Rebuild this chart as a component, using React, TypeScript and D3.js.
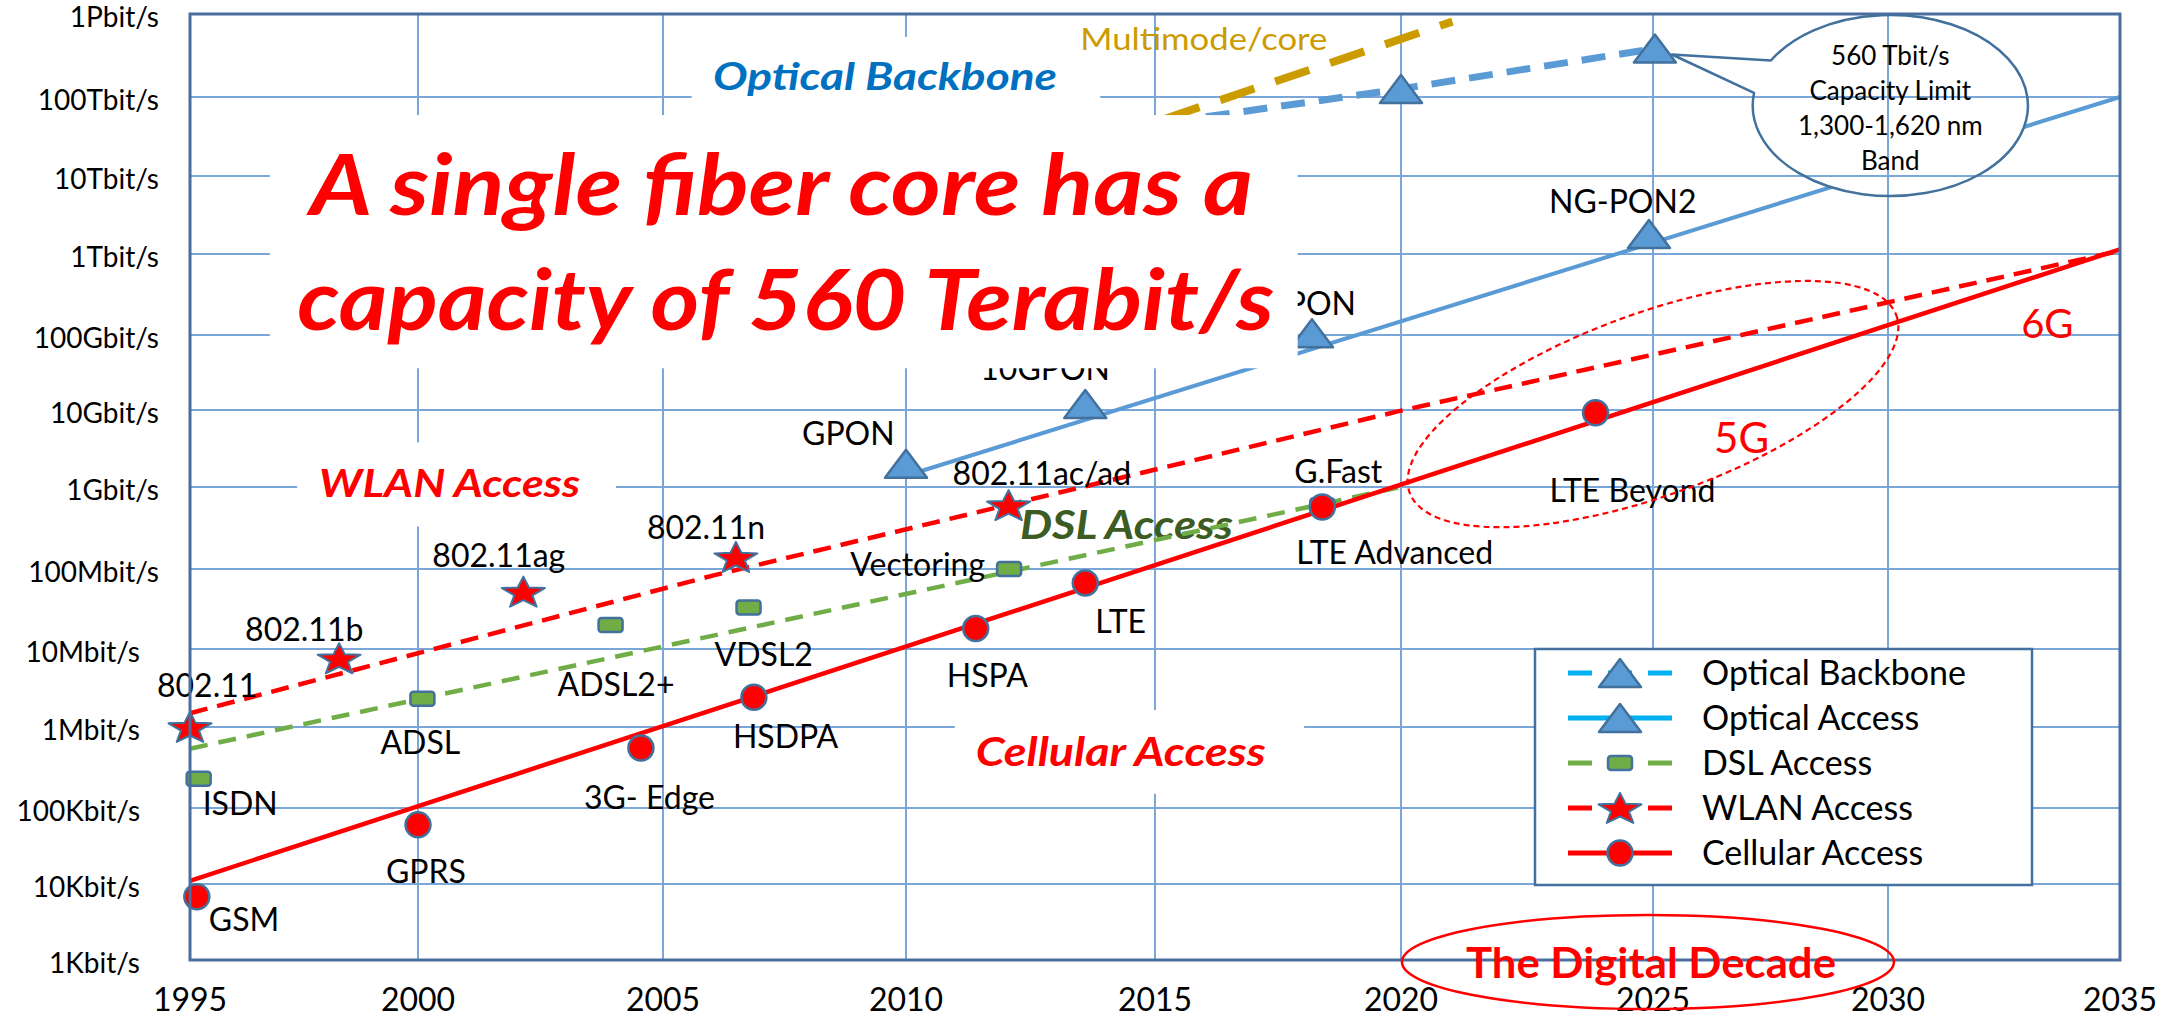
import React from 'react';
import * as d3 from 'd3';

type Pt = { name: string; year: number; rate: number };

const yearTicks = [1995, 2000, 2005, 2010, 2015, 2020, 2025, 2030, 2035];
const rateTicks = [1e3, 1e4, 1e5, 1e6, 1e7, 1e8, 1e9, 1e10, 1e11, 1e12, 1e13, 1e14, 1e15];
const rateTickLabels = ['1Kbit/s', '10Kbit/s', '100Kbit/s', '1Mbit/s', '10Mbit/s', '100Mbit/s', '1Gbit/s',
  '10Gbit/s', '100Gbit/s', '1Tbit/s', '10Tbit/s', '100Tbit/s', '1Pbit/s'];

const cellular: Pt[] = [
  { name: 'GSM', year: 1995.15, rate: 6.8e3 },
  { name: 'GPRS', year: 2000, rate: 6.0e4 },
  { name: '3G- Edge', year: 2004.55, rate: 5.5e5 },
  { name: 'HSDPA', year: 2006.87, rate: 2.4e6 },
  { name: 'HSPA', year: 2011.4, rate: 1.8e7 },
  { name: 'LTE', year: 2013.6, rate: 6.7e7 },
  { name: 'LTE Advanced', year: 2018.4, rate: 5.7e8 },
  { name: 'LTE Beyond', year: 2023.86, rate: 9.2e9 },
];
const cellularTrend = [[1995, 1.1e4], [2035, 1.15e12]];

const wlan: Pt[] = [
  { name: '802.11', year: 1995.0, rate: 1.0e6 },
  { name: '802.11b', year: 1998.27, rate: 7.6e6 },
  { name: '802.11ag', year: 2002.15, rate: 5.2e7 },
  { name: '802.11n', year: 2006.5, rate: 1.4e8 },
  { name: '802.11ac/ad', year: 2012.06, rate: 6.0e8 },
];
const wlanTrend = [[1995, 1.5e6], [2006, 8.2e7], [2020, 9.8e9], [2035, 1.1e12]];

const dsl: Pt[] = [
  { name: 'ISDN', year: 1995.19, rate: 2.3e5 },
  { name: 'ADSL', year: 2000.09, rate: 2.3e6 },
  { name: 'ADSL2+', year: 2003.93, rate: 2.0e7 },
  { name: 'VDSL2', year: 2006.76, rate: 3.3e7 },
  { name: 'Vectoring', year: 2012.07, rate: 1.0e8 },
  { name: 'G.Fast', year: 2018.4, rate: 6.0e8 },
];
const dslTrend = [[1995, 5.4e5], [2020, 1e9]];

const opticalAccess: Pt[] = [
  { name: 'GPON', year: 2010, rate: 2.0e9 },
  { name: '10GPON', year: 2013.6, rate: 1.2e10 },
  { name: 'XG-PON', year: 2018.19, rate: 1.05e11 },
  { name: 'NG-PON2', year: 2024.92, rate: 1.8e12 },
];
const opticalAccessTrend = [[2010, 1.4e9], [2035, 1e14]];

const opticalBackbone: Pt[] = [
  { name: '', year: 2013, rate: 3.0e13 },
  { name: '', year: 2020, rate: 1.25e14 },
  { name: '', year: 2025.04, rate: 3.84e14 },
];
const multimodeTrend = [[2013, 1.8e13], [2021.02, 8.1e14]];

const legendNames = ['Optical Backbone', 'Optical Access', 'DSL Access', 'WLAN Access', 'Cellular Access'];
const titleLines = ['A single fiber core has a', 'capacity of 560 Terabit/s'];
const calloutLines = ['560 Tbit/s', 'Capacity Limit', '1,300-1,620 nm', 'Band'];

// label placement: [dx, dy, anchor] from the marker
const labelOffsets: Record<string, [number, number, string]> = {
  GSM: [12, 34, 'start'], GPRS: [8, 58, 'middle'], '3G- Edge': [-57, 61, 'start'], HSDPA: [-21, 51, 'start'],
  HSPA: [-29, 58, 'start'], LTE: [10, 50, 'start'], 'LTE Advanced': [-26, 57, 'start'], 'LTE Beyond': [-46, 89, 'start'],
  '802.11': [-33, -30, 'start'], '802.11b': [-94, -17, 'start'], '802.11ag': [-91, -25, 'start'],
  '802.11n': [-89, -18, 'start'], '802.11ac/ad': [-56, -20, 'start'],
  ISDN: [4, 36, 'start'], ADSL: [-42, 55, 'start'], 'ADSL2+': [-53, 71, 'start'], VDSL2: [-34, 58, 'start'],
  Vectoring: [-24, 7, 'end'], 'G.Fast': [-28, -22, 'start'],
  GPON: [-104, -19, 'start'], '10GPON': [-105, -24, 'start'], 'XG-PON': [44, -18, 'end'], 'NG-PON2': [-100, -21, 'start'],
};

const FONT = "Lato, 'Open Sans', sans-serif";
const RED = '#ff0000';
const EDGE = '#41719c';

const starPath = (() => {
  const R = 16.6, r = 7, sx = 1.36;
  const pts = d3.range(10).map(i => {
    const a = -Math.PI / 2 + (i * Math.PI) / 5;
    const rad = i % 2 ? r : R;
    return [Math.cos(a) * rad * sx, Math.sin(a) * rad + 1.5];
  });
  return 'M' + pts.map(p => p.join(',')).join('L') + 'Z';
})();

const Marker: React.FC<{ kind: string }> = ({ kind }) => {
  if (kind === 'tri')
    return <path d="M0,-14L21,14L-21,14Z" fill="#5b9bd5" stroke={EDGE} strokeWidth={2.5} strokeLinejoin="round" />;
  if (kind === 'sq')
    return <rect x={-12} y={-7} width={24} height={14} rx={3} fill="#70ad47" stroke={EDGE} strokeWidth={2.5} />;
  if (kind === 'star') return <path d={starPath} fill={RED} stroke={EDGE} strokeWidth={2} strokeLinejoin="round" />;
  return <circle r={12.5} fill={RED} stroke={EDGE} strokeWidth={2.5} />;
};

const App: React.FC = () => {
  const W = 2175, H = 1020;
  const left = 190, right = 2120, top = 14, bottom = 960;

  // the reference grid is a little uneven, so both scales are piecewise
  const x = d3.scaleLinear().domain(yearTicks).range([190, 418, 663, 906, 1155, 1401, 1653, 1888, 2120]);
  const y = d3.scaleLog().domain(rateTicks).range([960, 884, 808, 727, 649, 569, 487, 410, 335, 254, 176, 97, 14]);
  const line = d3.line<number[]>().x(d => x(d[0])).y(d => y(d[1]));
  const ptLine = d3.line<Pt>().x(d => x(d.year)).y(d => y(d.rate));

  const whiteBox = (y0: number, y1: number, v0: number, v1: number, key: string) => (
    <rect key={key} x={x(y0)} y={y(v0)} width={x(y1) - x(y0)} height={y(v1) - y(v0)} fill="white" />
  );

  // callout bubble
  const bc = [x(2030.05), y(7.8e13)];
  const brx = 137.6, bry = 90.5;
  const a1 = (209.8 * Math.PI) / 180, a2 = (188 * Math.PI) / 180;
  const pA = [bc[0] + brx * Math.cos(a1), bc[1] + bry * Math.sin(a1)];
  const pB = [bc[0] + brx * Math.cos(a2), bc[1] + bry * Math.sin(a2)];
  const last = opticalBackbone[opticalBackbone.length - 1];
  const tip = [x(last.year) + 17, y(last.rate) + 6];
  const bubble = `M${pA}A${brx},${bry} 0 1 1 ${pB}L${tip}Z`;

  const labels = (pts: Pt[]) =>
    pts.filter(p => labelOffsets[p.name]).map(p => {
      const [dx, dy, anchor] = labelOffsets[p.name];
      return (
        <text key={p.name} x={x(p.year) + dx} y={y(p.rate) + dy} textAnchor={anchor as any}
          fontSize={32} fill="#000">{p.name}</text>
      );
    });

  const markers = (pts: Pt[], kind: string) =>
    pts.map((p, i) => (
      <g key={kind + i} transform={`translate(${x(p.year)},${y(p.rate)})`}><Marker kind={kind} /></g>
    ));

  const legendStyle = [
    { color: '#00b0f0', dash: '24 16', kind: 'tri' },
    { color: '#00b0f0', dash: undefined, kind: 'tri' },
    { color: '#70ad47', dash: '24 16', kind: 'sq' },
    { color: RED, dash: '24 16', kind: 'star' },
    { color: RED, dash: undefined, kind: 'circle' },
  ];
  const lg = { x: 1535, y: 649, w: 497, h: 236 };

  return (
    <svg width={W} height={H} style={{ position: 'absolute', left: 0, top: 0, background: '#fff' }} fontFamily={FONT}>
      <defs>
        <mask id="bubbleMask" maskUnits="userSpaceOnUse" x={0} y={0} width={W} height={H}>
          <rect width={W} height={H} fill="white" />
          <ellipse cx={bc[0]} cy={bc[1]} rx={brx} ry={bry} fill="black" />
        </mask>
      </defs>

      {/* grid */}
      <g stroke="#7ba7d8" strokeWidth={2}>
        {yearTicks.slice(1, -1).map(t => <line key={t} x1={x(t)} x2={x(t)} y1={top} y2={bottom} />)}
        {rateTicks.slice(1, -1).map(t => <line key={t} x1={left} x2={right} y1={y(t)} y2={y(t)} />)}
      </g>

      {/* axis labels - the lower ones sit further left in the original */}
      {rateTicks.map((t, i) => (
        <text key={t} x={t < 1e8 ? 140 : 159} y={y(t) + 3} dy="0.35em" textAnchor="end" fontSize={28}>{rateTickLabels[i]}</text>
      ))}
      {yearTicks.map(t => (
        <text key={t} x={x(t)} y={1011} textAnchor="middle" fontSize={32}>{t}</text>
      ))}

      <text x={x(2012.29)} y={y(2.3e8)} fontSize={41} fontWeight={700} fontStyle="italic" fill="#3d5c23"
        textLength={213} lengthAdjust="spacingAndGlyphs">DSL Access</text>

      {/* trend lines */}
      <g fill="none" mask="url(#bubbleMask)">
        <path d={line(multimodeTrend)!} stroke="#cc9b00" strokeWidth={8} strokeDasharray="36 22" />
        <path d={ptLine(opticalBackbone)!} stroke="#5b9bd5" strokeWidth={7} strokeDasharray="24 14" />
        <path d={line(opticalAccessTrend)!} stroke="#5b9bd5" strokeWidth={4} />
        <path d={line(dslTrend)!} stroke="#70ad47" strokeWidth={4.5} strokeDasharray="18 11" />
        <path d={line(wlanTrend)!} stroke={RED} strokeWidth={4.5} strokeDasharray="18 10" />
        <path d={line(cellularTrend)!} stroke={RED} strokeWidth={4.5} />
      </g>

      {markers(opticalBackbone, 'tri')}
      {markers(opticalAccess, 'tri')}
      {markers(dsl, 'sq')}
      {markers(wlan, 'star')}
      {markers(cellular, 'circle')}

      {labels(opticalAccess)}
      {labels(dsl)}
      {labels(wlan)}
      {labels(cellular)}

      {/* text panels that sit on top of the grid */}
      {whiteBox(1996.75, 2017.9, 5.9e13, 3.6e10, 'title')}
      {whiteBox(2005.59, 2013.9, 5.3e14, 5.9e13, 'ob')}
      {whiteBox(1997.35, 2004.04, 3.8e9, 3.3e8, 'wlan')}
      {whiteBox(2010.98, 2018.03, 1.65e6, 1.5e5, 'cell')}

      <g fill={RED} fontWeight={700} fontStyle="italic" fontSize={84}>
        <text x={x(1997.63)} y={y(3.16e12)} textLength={943} lengthAdjust="spacingAndGlyphs">{titleLines[0]}</text>
        <text x={x(1997.35)} y={y(1.15e11)} textLength={977} lengthAdjust="spacingAndGlyphs">{titleLines[1]}</text>
      </g>
      <text x={x(2006.03)} y={y(1.2e14)} fontSize={38} fontWeight={700} fontStyle="italic" fill="#0070c0"
        textLength={344} lengthAdjust="spacingAndGlyphs">Optical Backbone</text>
      <text x={x(2013.5)} y={y(3.7e14)} fontSize={30} fill="#cc9b00" textLength={247} lengthAdjust="spacingAndGlyphs">Multimode/core</text>
      <text x={x(1997.83)} y={y(7.5e8)} fontSize={39} fontWeight={700} fontStyle="italic" fill={RED}
        textLength={261} lengthAdjust="spacingAndGlyphs">WLAN Access</text>
      <text x={x(2011.4)} y={y(3.3e5)} fontSize={41} fontWeight={700} fontStyle="italic" fill={RED}
        textLength={290} lengthAdjust="spacingAndGlyphs">Cellular Access</text>
      <text x={x(2026.3)} y={y(2.8e9)} fontSize={42} fill={RED}>5G</text>
      <text x={x(2032.87)} y={y(9.1e10)} fontSize={40} fill={RED}>6G</text>

      {/* 5G ring */}
      <ellipse cx={x(2025)} cy={y(1.2e10)} rx={259} ry={91} transform={`rotate(-20 ${x(2025)} ${y(1.2e10)})`}
        fill="none" stroke={RED} strokeWidth={2.2} strokeDasharray="6 4" />

      {/* plot frame */}
      <rect x={left} y={top} width={right - left} height={bottom - top} fill="none" stroke="#4a6f9f" strokeWidth={3} />

      {/* digital decade */}
      <ellipse cx={x(2024.9)} cy={bottom + 2} rx={246} ry={47} fill="none" stroke={RED} strokeWidth={2.5} />
      <text x={x(2024.96)} y={bottom + 18} textAnchor="middle" fontSize={42} fontWeight={700} fill={RED}
        textLength={370} lengthAdjust="spacingAndGlyphs">The Digital Decade</text>

      {/* callout */}
      <path d={bubble} fill="none" stroke={EDGE} strokeWidth={2.5} strokeLinejoin="round" />
      {calloutLines.map((t, i) => (
        <text key={t} x={bc[0]} y={bc[1] - 40.5 + i * 35} textAnchor="middle" fontSize={26}>{t}</text>
      ))}

      {/* legend */}
      <rect x={lg.x} y={lg.y} width={lg.w} height={lg.h} fill="white" stroke={EDGE} strokeWidth={2.5} />
      {legendNames.map((n, i) => {
        const s = legendStyle[i];
        const cy = lg.y + 24 + i * 45;
        return (
          <g key={n}>
            <line x1={1568} x2={1672} y1={cy} y2={cy} stroke={s.color} strokeWidth={5} strokeDasharray={s.dash} />
            <g transform={`translate(1620,${cy})`}><Marker kind={s.kind} /></g>
            <text x={1702} y={cy + 12} fontSize={34}>{n}</text>
          </g>
        );
      })}
    </svg>
  );
};

export default App;
